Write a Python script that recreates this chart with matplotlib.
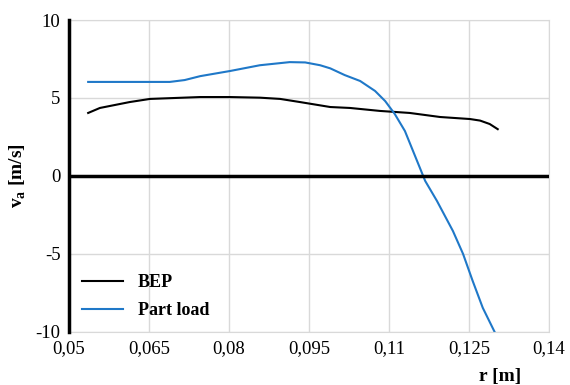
import numpy as np
import matplotlib.pyplot as plt
from matplotlib.ticker import FuncFormatter

# radius [m] and axial velocity [m/s]
r_bep = [0.0536, 0.0558, 0.0614, 0.0652, 0.0699, 0.0746, 0.0802, 0.0858, 0.0896, 0.0933,
         0.0990, 0.1027, 0.1083, 0.1139, 0.1196, 0.1252, 0.1271, 0.1289, 0.1304]
va_bep = [4.04, 4.36, 4.74, 4.94, 5.00, 5.06, 5.06, 5.02, 4.94, 4.74,
          4.42, 4.36, 4.17, 4.04, 3.78, 3.65, 3.55, 3.33, 3.00]

r_part = [0.0536, 0.0600, 0.0689, 0.0717, 0.0746, 0.0802, 0.0858, 0.0914, 0.0943, 0.0971,
          0.0990, 0.1017, 0.1046, 0.1074, 0.1093, 0.1111, 0.1130, 0.1149, 0.1168,
          0.1190, 0.1220, 0.1239, 0.1257, 0.1276, 0.1299]
va_part = [6.03, 6.03, 6.03, 6.15, 6.40, 6.73, 7.10, 7.30, 7.28, 7.10,
           6.90, 6.47, 6.09, 5.45, 4.80, 3.97, 2.88, 1.28, -0.32,
           -1.60, -3.53, -5.00, -6.73, -8.46, -10.06]

xticks = [0.05, 0.065, 0.08, 0.095, 0.11, 0.125, 0.14]
yticks = [-10, -5, 0, 5, 10]

plt.rcParams['font.family'] = ['Liberation Serif', 'DejaVu Serif']
plt.rcParams['axes.unicode_minus'] = False

fig, ax = plt.subplots(figsize=(5.7, 3.85), dpi=100)
fig.subplots_adjust(left=0.121, right=0.963, top=0.948, bottom=0.138)

ax.plot(r_bep, va_bep, color='black', lw=1.5, label='BEP')
ax.plot(r_part, va_part, color='#1f78c8', lw=1.5, label='Part load')
ax.axhline(0, color='black', lw=2.5, zorder=3)

ax.set_xlim(0.05, 0.14)
ax.set_ylim(-10, 10)
ax.set_xticks(xticks)
ax.set_yticks(yticks)
ax.xaxis.set_major_formatter(FuncFormatter(lambda v, p: ('%g' % v).replace('.', ',')))
ax.tick_params(length=0, labelsize=13.5, pad=6)
ax.grid(True, color='#d9d9d9', lw=1)
ax.set_axisbelow(True)

for s in ['top', 'right', 'bottom']:
    ax.spines[s].set_color('#d9d9d9')
ax.spines['left'].set_color('black')
ax.spines['left'].set_linewidth(2.5)
ax.spines['left'].set_zorder(4)

ax.set_ylabel('v$_\\mathregular{a}$ [m/s]', fontsize=14, fontweight='bold', labelpad=2)
ax.yaxis.set_label_coords(-0.085, 0.5)
fig.text(0.877, 0.0, 'r [m]', fontsize=14, fontweight='bold', ha='center', va='bottom')

leg = ax.legend(loc='lower left', frameon=False, prop={'size': 13, 'weight': 'bold'},
                handlelength=2.3, borderaxespad=0.3, labelspacing=0.6)

fig.savefig('out.png')
